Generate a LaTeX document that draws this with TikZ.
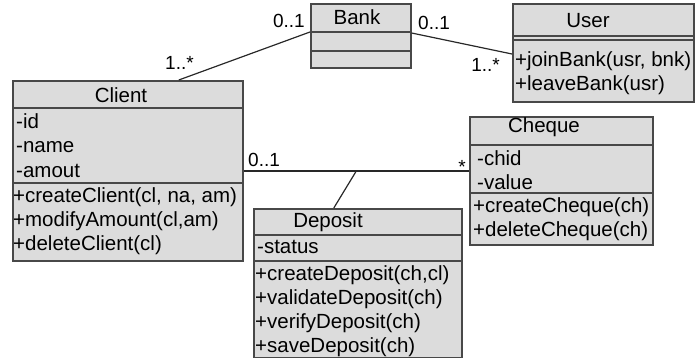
\documentclass[tikz,border=0pt]{standalone}
\usepackage{fontspec}
\setmainfont{Liberation Sans}
\usepackage{xcolor}
\usepackage{tikz}
\definecolor{boxfill}{RGB}{220,220,220}
\definecolor{boxline}{RGB}{72,72,72}
\definecolor{assocline}{RGB}{40,40,40}

\begin{document}
\begin{tikzpicture}[x=1pt, y=-1pt,
      every node/.style={font=\fontsize{20.5}{24}\selectfont},
      classbox/.style={draw=boxline, fill=boxfill, line width=1.6pt, anchor=north west, inner sep=0pt},
      divider/.style={draw=boxline, line width=1.6pt},
      title/.style={anchor=base, inner sep=0pt},
      member/.style={anchor=base west, inner sep=0pt},
      mult/.style={inner sep=0pt, font=\fontsize{19}{22}\selectfont},
      assoc/.style={draw=assocline, line width=1.2pt}
      ]
      \useasboundingbox (0,0) rectangle (695,358);

      \node[classbox, minimum width=230pt, minimum height=180pt] (client) at (12,80) {};
      \node[classbox, minimum width=100pt, minimum height=64pt] (bank) at (310,3) {};
      \node[classbox, minimum width=181pt, minimum height=98pt] (user) at (512,3) {};
      \node[classbox, minimum width=183pt, minimum height=128pt] (cheque) at (469,116) {};
      \node[classbox, minimum width=208pt, minimum height=149pt] (deposit) at (253,208) {};

      \draw[divider] ([yshift=-28pt]client.north west) -- ([yshift=-28pt]client.north east);
      \draw[divider] ([yshift=-103pt]client.north west) -- ([yshift=-103pt]client.north east);
      \draw[divider] ([yshift=-29pt]bank.north west) -- ([yshift=-29pt]bank.north east);
      \draw[divider] ([yshift=-48pt]bank.north west) -- ([yshift=-48pt]bank.north east);
      \draw[divider] ([yshift=-33pt]user.north west) -- ([yshift=-33pt]user.north east);
      \draw[divider] ([yshift=-37pt]user.north west) -- ([yshift=-37pt]user.north east);
      \draw[divider] ([yshift=-29pt]cheque.north west) -- ([yshift=-29pt]cheque.north east);
      \draw[divider] ([yshift=-77pt]cheque.north west) -- ([yshift=-77pt]cheque.north east);
      \draw[divider] ([yshift=-27pt]deposit.north west) -- ([yshift=-27pt]deposit.north east);
      \draw[divider] ([yshift=-53pt]deposit.north west) -- ([yshift=-53pt]deposit.north east);

      % Client
      \node[title] (clientname) at (121,103) {Client};
      \foreach \t [count=\i] in {-id, -name, -amout}
        \node[member] (clientattr\i) at (16,{105+24*\i}) {\t};
      \foreach \t [count=\i] in {{+createClient(cl, na, am)}, {+modifyAmount(cl,am)}, {+deleteClient(cl)}}
        \node[member] (clientop\i) at (13,{178+24*\i}) {\t};

      % Bank
      \node[title] (bankname) at (357,25) {Bank};

      % User
      \node[title] (username) at (588,28) {User};
      \foreach \t [count=\i] in {{+joinBank(usr, bnk)}, {+leaveBank(usr)}}
        \node[member] (userop\i) at (515,{43+24*\i}) {\t};

      % Cheque
      \node[title] (chequename) at (544,133) {Cheque};
      \foreach \t [count=\i] in {-chid, -value}
        \node[member] (chequeattr\i) at (477,{141+24*\i}) {\t};
      \foreach \t [count=\i] in {{+createCheque(ch)}, {+deleteCheque(ch)}}
        \node[member] (chequeop\i) at (473,{188+24*\i}) {\t};

      % Deposit
      \node[title] (depositname) at (328,227) {Deposit};
      \node[member] (depositattr1) at (257,253) {-status};
      \foreach \t [count=\i] in {{+createDeposit(ch,cl)}, {+validateDeposit(ch)}, {+verifyDeposit(ch)}, {+saveDeposit(ch)}}
        \node[member] (depositop\i) at (255,{256+24*\i}) {\t};

      % associations
      \draw[assoc] ([xshift=51pt]client.north) -- ([yshift=-29pt]bank.north west);
      \draw[assoc] ([yshift=-30pt]bank.north east) -- ([yshift=-51pt]user.north west);
      \draw[assoc] ([yshift=-91pt]client.north east) -- coordinate[pos=0.5] (link) ([yshift=-55pt]cheque.north west);
      \draw[assoc] ([xshift=-24pt]deposit.north) -- (link);

      \node[mult, anchor=base west] (clientmult) at (165,70) {1..*};
      \node[mult, anchor=base east] (bankmultl) at (305,28) {0..1};
      \node[mult, anchor=base west] (bankmultr) at (418,30) {0..1};
      \node[mult, anchor=base east] (usermult) at (500,72) {1..*};
      \node[mult, anchor=base west] (clientmultc) at (248,166) {0..1};
      \node[mult, anchor=base east] (chequemult) at (466,174) {*};
    \end{tikzpicture}
\end{document}
